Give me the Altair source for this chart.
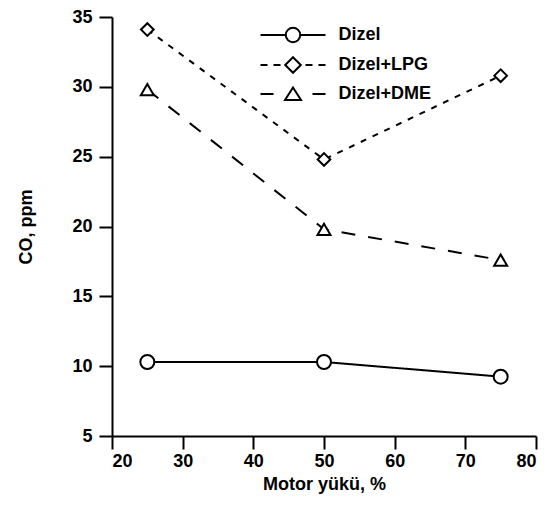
import altair as alt
import pandas as pd

# ---- data ----
load = [25, 50, 75]
dizel = [10.3, 10.3, 9.25]
dizel_lpg = [34.1, 24.8, 30.8]
dizel_dme = [29.8, 19.8, 17.6]
series_names = ["Dizel", "Dizel+LPG", "Dizel+DME"]
marker_shapes = ["circle", "diamond", "triangle-up"]
marker_sizes = [196, 160, 169]
dash_patterns = [[1, 0], [6, 7], [14, 13]]
x_ticks = [20, 30, 40, 50, 60, 70, 80]
y_ticks = [5, 10, 15, 20, 25, 30, 35]

rows = []
for name, vals in zip(series_names, [dizel, dizel_lpg, dizel_dme]):
    for x, v in zip(load, vals):
        rows.append({"load": x, "co": v, "series": name})
df = pd.DataFrame(rows)

FONT = "Liberation Sans"


def circle_path(r):
    k = round(0.5523 * r, 4)
    return (f"M{r},0C{r},{k} {k},{r} 0,{r}C{-k},{r} {-r},{k} {-r},0"
            f"C{-r},{-k} {-k},{-r} 0,{-r}C{k},{-r} {r},{-k} {r},0Z")


# legend symbols: line pattern + marker, in symbol units
leg_dizel = "M-3.25,0L-0.72,0M0.72,0L3.25,0" + circle_path(0.72)
leg_lpg = ("M-3.25,0L-2.55,0M-1.95,0L-1.25,0M1.25,0L1.95,0M2.55,0L3.25,0"
           "M0,-0.78L0.78,0L0,0.78L-0.78,0Z")
leg_dme = "M-3.25,0L-1.95,0M1.95,0L3.25,0M0,-0.65L0.8,0.6L-0.8,0.6Z"

axis_style = dict(labelFont=FONT, labelFontSize=18, labelFontWeight="bold",
                  labelColor="black", titleFont=FONT, titleFontSize=18,
                  titleFontWeight="bold", titleColor="black", grid=False,
                  domainColor="black", domainWidth=2, tickColor="black",
                  tickWidth=2, tickSize=13)

x_enc = alt.X("load:Q", scale=alt.Scale(domain=[20, 80], nice=False),
              axis=alt.Axis(values=x_ticks, title="Motor yükü, %",
                            labelPadding=3, titlePadding=5, **axis_style))
y_enc = alt.Y("co:Q", scale=alt.Scale(domain=[5, 35], nice=False),
              axis=alt.Axis(values=y_ticks, title="CO, ppm",
                            labelPadding=7, titlePadding=36, **axis_style))

base = alt.Chart(df)

layers = []
for name, dash in zip(series_names, dash_patterns):
    layers.append(
        base.transform_filter(alt.datum.series == name).mark_line(
            color="black", strokeWidth=2, strokeDash=dash
        ).encode(x=x_enc, y=y_enc)
    )
for name, shp, sz in zip(series_names, marker_shapes, marker_sizes):
    layers.append(
        base.transform_filter(alt.datum.series == name).mark_point(
            shape=shp, size=sz, fill="white", stroke="black",
            strokeWidth=2, opacity=1, filled=False
        ).encode(x="load:Q", y="co:Q")
    )

legend_def = alt.Legend(
    title=None, orient="none", legendX=170, legendY=7,
    symbolSize=400, labelOffset=34.5, rowPadding=6,
    padding=0, labelFont=FONT, labelFontSize=18,
    labelFontWeight="bold", labelColor="black",
    symbolStrokeWidth=2, symbolOpacity=1)

# layer that carries only the legend (its data is filtered away)
legend_layer = base.transform_filter("false").mark_point(
    filled=False, strokeWidth=2, opacity=1
).encode(
    x="load:Q", y="co:Q",
    color=alt.Color("series:N",
                    scale=alt.Scale(domain=series_names,
                                    range=["black", "black", "black"]),
                    legend=legend_def),
    shape=alt.Shape("series:N",
                    scale=alt.Scale(domain=series_names,
                                    range=[leg_dizel, leg_lpg, leg_dme]),
                    legend=legend_def),
)
layers.append(legend_layer)

chart = alt.layer(*layers).properties(
    width=424, height=419,
    autosize=alt.AutoSizeParams(type="none"),
    padding={"left": 104, "top": 9, "right": 11, "bottom": 62},
).configure_view(stroke=None)

chart.save("out.html", embed_options={"renderer": "svg", "actions": False})
